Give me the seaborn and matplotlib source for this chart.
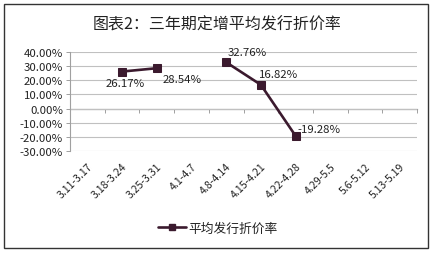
import numpy as np
import pandas as pd
import matplotlib
matplotlib.use("Agg")
import matplotlib.pyplot as plt
from matplotlib.lines import Line2D
from matplotlib.patches import Rectangle
import seaborn as sns

categories = ["3.11-3.17", "3.18-3.24", "3.25-3.31", "4.1-4.7", "4.8-4.14",
              "4.15-4.21", "4.22-4.28", "4.29-5.5", "5.6-5.12", "5.13-5.19"]
discount = [np.nan, 26.17, 28.54, np.nan, 32.76, 16.82, -19.28, np.nan, np.nan, np.nan]
yticks = [40, 30, 20, 10, 0, -10, -20, -30]
title = "图表2：三年期定增平均发行折价率"
series_name = "平均发行折价率"

sns.set_theme(style="white")
plt.rcParams['font.family'] = ['Noto Sans CJK SC', 'DejaVu Sans']

df = pd.DataFrame({"pos": np.arange(len(categories)), "val": discount})
df["seg"] = df["val"].isna().cumsum()
dfp = df.dropna()

color = "#3b1a2e"
fig = plt.figure(figsize=(4.34, 2.55), dpi=100)
ax = fig.add_axes([70/434, 1-152/255, 347/434, 99/255])

sns.lineplot(data=dfp, x="pos", y="val", units="seg", estimator=None, ax=ax,
             color=color, lw=1.9, marker="s", markersize=5.5,
             markeredgecolor=color, legend=False)

ax.set_xlim(-0.5, len(categories) - 0.5)
ax.set_ylim(-30, 40)
ax.set_yticks(yticks)
ax.set_yticklabels([f"{v:.2f}%" for v in yticks], fontsize=8.2, color="#222222")
ax.set_xticks(np.arange(len(categories)))
ax.set_xticklabels(categories, rotation=45, ha="right", rotation_mode="anchor",
                   fontsize=7.6, color="#222222")
ax.tick_params(axis="x", length=0, pad=7)
ax.tick_params(axis="y", length=3, width=0.7, color="#a0a0a0", direction="out", pad=2, left=True)
ax.set_xlabel("")
ax.set_ylabel("")
ax.yaxis.grid(True, color="#c0c0c0", lw=0.8)
ax.set_axisbelow(True)
for s in ["top", "right", "bottom"]:
    ax.spines[s].set_visible(False)
ax.spines["left"].set_color("#a0a0a0")
ax.spines["left"].set_linewidth(0.8)

# category-axis at zero with boundary tick marks
sec = ax.secondary_xaxis(30/70)
sec.set_xticks(np.arange(len(categories) + 1) - 0.5)
sec.set_xticklabels([])
sec.tick_params(axis="x", length=3, width=0.7, color="#a0a0a0", direction="out")
sec.spines["bottom"].set_color("#a0a0a0")
sec.spines["bottom"].set_linewidth(0.9)

offsets = {1: (3, -11, "center"), 2: (6, -11, "left"), 4: (1, 10, "left"),
           5: (-2, 11, "left"), 6: (2, 7, "left")}
for i, v in enumerate(discount):
    if np.isnan(v):
        continue
    dx, dy, ha = offsets[i]
    ax.annotate(f"{v:.2f}%", (i, v), xytext=(dx, dy), textcoords="offset pixels",
                ha=ha, va="center", fontsize=8.2, color="#222222")

fig.text(0.5, 1-25/255, title, ha="center", va="center", fontsize=11.5, color="#222222")

handle = Line2D([], [], color=color, lw=1.9, marker="s", markersize=5, markeredgecolor=color)
fig.legend([handle], [series_name], loc="center", bbox_to_anchor=(218/434, 1-229/255),
           frameon=False, fontsize=9.2, handlelength=2.2, handletextpad=0.2,
           labelcolor="#222222")

fig.add_artist(Rectangle((4/434, 1-249/255), 424/434, 244/255, transform=fig.transFigure,
                         fill=False, edgecolor="#333333", lw=1))

fig.savefig("out.png", dpi=100)
